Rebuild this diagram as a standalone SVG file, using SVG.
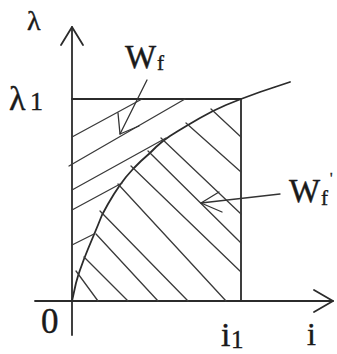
<svg xmlns="http://www.w3.org/2000/svg" width="337" height="354" viewBox="0 0 337 354">
<style>
.ax{stroke:#2b2b2b;stroke-width:1.8;fill:none;stroke-linecap:round;stroke-linejoin:round}
.h{stroke:#3a3a3a;stroke-width:1.3;fill:none;stroke-linecap:round}
.ar{stroke:#333;stroke-width:1.3;fill:none;stroke-linecap:round;stroke-linejoin:round}
.t{font-family:"Liberation Serif","Times New Roman",serif;fill:#1a1a1a;stroke:#1a1a1a;stroke-width:0.4}
</style>
<rect width="337" height="354" fill="#fff"/>
<g id="axes">
<line class="ax" x1="72" y1="27" x2="72" y2="335"/>
<polyline class="ax" points="61,45 72,27 83,45"/>
<line class="ax" x1="35" y1="301" x2="333" y2="301"/>
<polyline class="ax" points="314,290 333,301 314,312"/>
</g>
<g id="rectangle"><polyline class="ax" points="72,99 241,99 241,301"/></g>
<g id="curve"><polyline class="ax" stroke-width="1.5" points="72,301 74,292 76,283 78,276 80,270 84,259 88,249 93,237 98,225 102,215 108,204 114,194 120,185 126,177 133,169 141,161 150,153 156,147 163,141 170,136 178,131 188,125 200,118 213,111 226,105 241,99 260,92 275,87 290,82"/></g>
<g id="hatch-upper">
<line class="h" x1="72" y1="137" x2="142" y2="99"/>
<line class="h" x1="69" y1="166" x2="185" y2="99"/>
<line class="h" x1="72" y1="190" x2="166" y2="138"/>
<line class="h" x1="72" y1="210" x2="122" y2="183"/>
<line class="h" x1="72" y1="245" x2="94" y2="234"/>
</g>
<g id="hatch-lower">
<line class="h" x1="211" y1="109" x2="241" y2="137"/>
<line class="h" x1="186" y1="123" x2="241" y2="172"/>
<line class="h" x1="161" y1="138" x2="241" y2="214"/>
<line class="h" x1="148" y1="151" x2="241" y2="243"/>
<line class="h" x1="131" y1="166" x2="241" y2="272"/>
<line class="h" x1="118" y1="184" x2="226" y2="301"/>
<line class="h" x1="100" y1="211" x2="188" y2="301"/>
<line class="h" x1="96" y1="234" x2="158" y2="301"/>
<line class="h" x1="84" y1="257" x2="128" y2="301"/>
<line class="h" x1="76" y1="271" x2="98" y2="301"/>
</g>
<g id="connectors">
<g id="arrow-wf-upper">
<line class="ar" x1="147" y1="80" x2="120" y2="134"/>
<polyline class="ar" points="118,113 120,134 139,126"/>
</g>
<g id="arrow-wf-lower">
<line class="ar" x1="280" y1="194" x2="201" y2="203"/>
<polyline class="ar" points="219,192 201,203 222,212"/>
</g>
</g>
<g id="labels">
<text class="t" x="27" y="30" font-size="28">λ</text>
<text class="t" x="9" y="110" font-size="34">λ<tspan x="30" y="110" font-size="26">1</tspan></text>
<text class="t" x="125" y="68" font-size="33">W<tspan x="157" y="70" font-size="21">f</tspan></text>
<text class="t" x="289" y="202" font-size="33">W<tspan x="321" y="205" font-size="21">f</tspan><tspan x="330" y="183" font-size="14">'</tspan></text>
<text class="t" x="41" y="333" font-size="35">0</text>
<text class="t" x="221" y="346" font-size="34">i<tspan x="231" y="348" font-size="25">1</tspan></text>
<text class="t" x="307" y="345" font-size="32">i</text>
</g>
</svg>
